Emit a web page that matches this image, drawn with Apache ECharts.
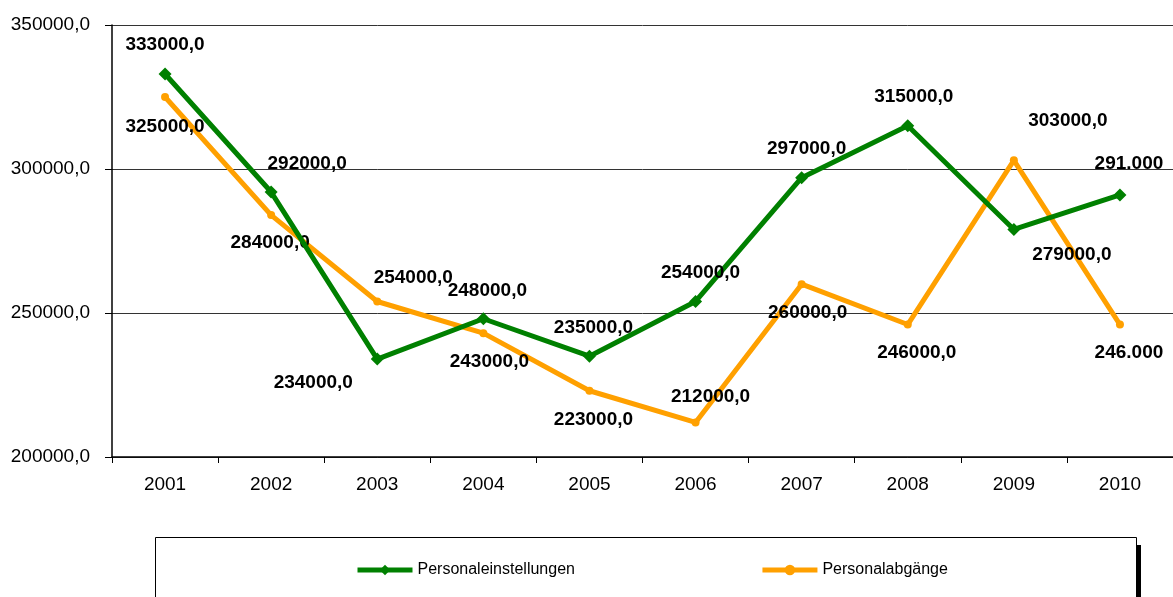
<!DOCTYPE html>
<html>
<head>
<meta charset="utf-8">
<script src="https://cdn.jsdelivr.net/npm/echarts@6/dist/echarts.min.js"></script>
<style>
  html, body { margin: 0; padding: 0; background: #fff; }
  #chart { width: 1173px; height: 597px; }
</style>
</head>
<body>
<div id="chart"></div>
<script>
var years = ['2001', '2002', '2003', '2004', '2005', '2006', '2007', '2008', '2009', '2010'];
var einstellungen = [333000, 292000, 234000, 248000, 235000, 254000, 297000, 315000, 279000, 291000];
var abgaenge = [325000, 284000, 254000, 243000, 223000, 212000, 260000, 246000, 303000, 246000];

// label offsets (px from point)
var greenOffsets = [[0, -29], [36, -28], [-64, 24], [4, -28], [4, -28], [5, -29], [5, -29], [6, -29], [58, 25], [9, -31]];
var orangeOffsets = [[0, 30], [-1, 28], [36, -24], [6, 29], [4, 29], [15, -26], [6, 29], [9, 28], [54, -40], [9, 28]];

var FONT = '"Liberation Sans", Arial, sans-serif';

function fmtComma(v) {
    return v.toFixed(1).replace('.', ',');
}
function fmtDot(v) {
    return String(v).replace(/\B(?=(\d{3})+(?!\d))/g, '.');
}

function buildData(values, offsets) {
    return values.map(function (v, i) {
        return {
            value: v,
            label: { offset: offsets[i] }
        };
    });
}

var chart = echarts.init(document.getElementById('chart'));

var labelStyle = {
    show: true,
    position: 'inside',
    fontFamily: FONT,
    fontWeight: 'bold',
    fontSize: 19,
    color: '#000',
    formatter: function (p) {
        return p.dataIndex === years.length - 1 ? fmtDot(p.value) : fmtComma(p.value);
    }
};

var option = {
    animation: false,
    grid: { left: 112, right: 0, top: 25, bottom: 140, outerBoundsMode: 'none' },
    xAxis: {
        type: 'category',
        data: years,
        boundaryGap: true,
        axisLine: { lineStyle: { color: '#000', width: 1.5 } },
        axisTick: { show: true, length: 6, lineStyle: { color: '#000' } },
        axisLabel: { color: '#000', fontFamily: FONT, fontSize: 19, margin: 18 }
    },
    yAxis: {
        type: 'value',
        min: 200000,
        max: 350000,
        interval: 50000,
        axisLine: { show: true, lineStyle: { color: '#000', width: 1.5 } },
        axisTick: { show: true, length: 7, lineStyle: { color: '#000' } },
        axisLabel: { color: '#000', fontFamily: FONT, fontSize: 19, margin: 22, formatter: fmtComma },
        splitLine: { show: true, lineStyle: { color: '#333', width: 1 } }
    },
    legend: {
        left: 350,
        top: 557,
        itemWidth: 55,
        itemHeight: 13,
        itemGap: 185,
        lineStyle: { width: 5 },
        textStyle: { fontFamily: FONT, fontSize: 16, color: '#000' },
        data: ['Personaleinstellungen', 'Personalabgänge']
    },
    graphic: [
        { type: 'rect', left: 1136, top: 545, shape: { width: 5, height: 60 }, style: { fill: '#000' }, z: 0 },
        { type: 'rect', left: 155, top: 537, shape: { width: 981, height: 70 }, style: { fill: '#fff', stroke: '#000', lineWidth: 1 }, z: 1 }
    ],
    series: [
        {
            name: 'Personaleinstellungen',
            type: 'line',
            data: buildData(einstellungen, greenOffsets),
            symbol: 'diamond',
            symbolSize: 13,
            lineStyle: { color: '#008000', width: 5 },
            itemStyle: { color: '#008000' },
            label: labelStyle,
            z: 3
        },
        {
            name: 'Personalabgänge',
            type: 'line',
            data: buildData(abgaenge, orangeOffsets),
            symbol: 'circle',
            symbolSize: 8,
            lineStyle: { color: '#FFA000', width: 5 },
            itemStyle: { color: '#FFA000' },
            label: labelStyle,
            z: 2
        }
    ]
};

chart.setOption(option);
window.addEventListener('resize', function () {
    chart.resize();
});
</script>
</body>
</html>
